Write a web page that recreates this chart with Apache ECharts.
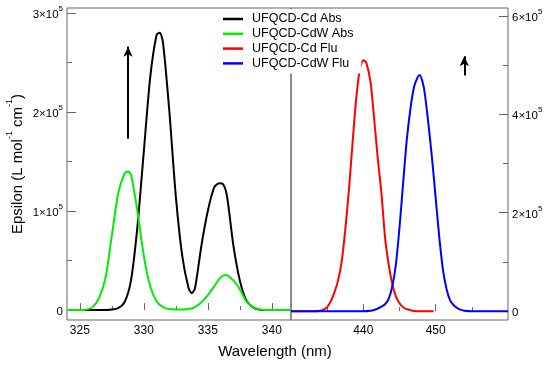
<!DOCTYPE html>
<html><head><meta charset="utf-8">
<script src="https://cdn.jsdelivr.net/npm/echarts@6/dist/echarts.min.js"></script>
<style>html,body{margin:0;padding:0;background:#fff}#c{width:550px;height:368px}</style>
</head><body><div id="c"></div>
<script>
// Absorption (left panel, left axis) — [wavelength nm, epsilon]
var cdAbs = [[324,0],[325,0],[326,0],[327,0],[327.5,500],[328,2000],[328.5,8000],[329,30000],[329.5,84000],[330,160000],[330.5,235000],[331,278000],[331.25,280000],[331.5,270000],[332,200000],[332.5,115000],[333,55000],[333.5,22000],[333.75,17000],[334,22000],[334.5,65000],[335,100000],[335.5,124000],[335.9,128000],[336.2,127000],[336.5,115000],[337,65000],[337.5,30000],[338,10000],[338.5,3000],[339,500],[339.5,0],[341.5,0]];
var cdwAbs = [[324,0],[325,0],[325.5,500],[326,3000],[326.5,12000],[327,32000],[327.5,75000],[328,118000],[328.5,138000],[328.75,140000],[329,137000],[329.5,100000],[330,55000],[330.5,24000],[331,9000],[331.5,3000],[332,1000],[333,500],[333.5,1000],[334,3000],[334.5,8000],[335,15000],[335.5,24000],[336,33000],[336.4,35500],[337,30000],[337.5,21000],[338,9000],[338.5,3000],[339,800],[339.5,0],[341.5,0]];
// Fluorescence (right panel, right axis)
var cdFlu = [[430,0],[433,0],[434,1000],[434.5,3000],[435,8000],[435.5,20000],[436,38000],[436.5,62000],[437,100000],[437.5,165000],[438,245000],[438.5,340000],[439,430000],[439.5,490000],[440,510000],[440.4,505000],[441,465000],[441.5,390000],[442,310000],[442.5,240000],[443,150000],[443.5,95000],[444,55000],[444.5,30000],[445,16000],[445.5,8000],[446,4000],[446.5,2000],[447,500],[448,0],[449.7,0]];
var cdwFlu = [[430,0],[440,0],[441,1000],[441.5,2500],[442,5000],[442.5,9000],[443,14000],[443.5,25000],[444,50000],[444.5,95000],[445,170000],[445.5,260000],[446,347000],[446.5,410000],[447,455000],[447.5,475000],[447.8,480000],[448.2,465000],[448.5,442000],[449,380000],[449.5,310000],[450,230000],[450.5,150000],[451,85000],[451.5,45000],[452,22000],[452.5,12000],[453,6000],[453.5,2500],[454,1000],[455,0],[460,0]];

var seriesNames = ['UFQCD-Cd Abs','UFQCD-CdW Abs','UFQCD-Cd Flu','UFQCD-CdW Flu'];
var seriesColors = ['#000000','#00ee00','#ff0000','#0000ff'];
var xLeftMajor = [325,330,335,340], xLeftMinor = [327.5,332.5,337.5];
var xRightMajor = [440,450], xRightMinor = [435,445,455];
var yLeftMajor = [0,100000,200000,300000], yLeftMinor = [50000,150000,250000];
var yRightMajor = [0,200000,400000,600000], yRightMinor = [100000,300000,500000];
var arrowLeft = [[328.77,173000],[328.77,266000]];
var arrowRight = [[453.96,479000],[453.96,518000]];

var FONT = "'Liberation Sans', Arial, Helvetica, sans-serif";
var AX = '#666';
function sciFmt(v){ if (v === 0) return '{b|0}'; return '{b|' + Math.round(v/1e5) + '×10}{s|5}'; }
var sciRich = { b:{fontSize:11.5, fontFamily:FONT, color:'#000', verticalAlign:'bottom', lineHeight:16}, s:{fontSize:8, fontFamily:FONT, color:'#000', verticalAlign:'top', lineHeight:16} };

function xAx(grid, min, max, vals, len, labels){
  return {type:'value', gridIndex:grid, min:min, max:max, position:'bottom',
    axisLine:{show:false}, splitLine:{show:false},
    axisTick:{show:true, inside:true, length:len, customValues:vals, lineStyle:{color:AX}},
    axisLabel:{show:labels, customValues:vals, margin:5, fontSize:12, fontFamily:FONT, color:'#000'}};
}
function yAx(grid, pos, min, max, vals, len, labels){
  return {type:'value', gridIndex:grid, min:min, max:max, position:pos,
    axisLine:{show:false}, splitLine:{show:false},
    axisTick:{show:true, inside:true, length:len, customValues:vals, lineStyle:{color:AX}},
    axisLabel:{show:labels, customValues:vals, margin:4, formatter:sciFmt, rich:sciRich}};
}
var yl0 = yAx(0,'left',-10000,305000,yLeftMajor,9,true);
yl0.name = '{n|Epsilon (L mol}{s|-1}{n| cm}{s|-1}{n|)}';
yl0.nameLocation = 'middle'; yl0.nameRotate = 90; yl0.nameGap = 42;
yl0.nameTextStyle = {rich:{n:{fontSize:15, fontFamily:FONT, color:'#000', verticalAlign:'bottom', lineHeight:20}, s:{fontSize:9, fontFamily:FONT, color:'#000', verticalAlign:'top', lineHeight:20}}};

var chart = echarts.init(document.getElementById('c'), null, {renderer:'canvas'});
function line(name, data, xi, yi, color, extra){
  var s = {name:name, type:'line', data:data, xAxisIndex:xi, yAxisIndex:yi, symbol:'none', smooth:0.25,
    lineStyle:{color:color, width:2}, itemStyle:{color:color}, emphasis:{disabled:true}};
  if (extra) s.markLine = extra;
  return s;
}
function arrow(pts){
  return {silent:true, symbol:['none','arrow'], symbolSize:[7,10], label:{show:false},
    lineStyle:{color:'#000', width:2, type:'solid'}, emphasis:{disabled:true},
    data:[[{coord:pts[0]},{coord:pts[1]}]]};
}
chart.setOption({
  animation:false,
  backgroundColor:'#fff',
  textStyle:{fontFamily:FONT},
  grid:[
    {left:67, top:8, width:224, height:312, show:true, borderColor:AX, borderWidth:1, backgroundColor:'transparent'},
    {left:291, top:8, width:217, height:312, show:true, borderColor:AX, borderWidth:1, backgroundColor:'transparent'}
  ],
  legend:{orient:'vertical', left:218, top:9, itemWidth:20, itemHeight:2.5, itemGap:0.8,
    data: seriesNames.map(function(n,i){ return {name:n, icon:'rect', itemStyle:{color:seriesColors[i], borderWidth:0}}; }),
    padding:[3,8,3,5], backgroundColor:'#fff',
    textStyle:{fontSize:12.5, fontFamily:FONT, color:'#000', lineHeight:14, padding:[0,0,0,4]}},
  xAxis:[
    xAx(0,324,341.5,xLeftMajor,7,true), xAx(0,324,341.5,xLeftMinor,4,false),
    xAx(1,430,460,xRightMajor,7,true), xAx(1,430,460,xRightMinor,4,false)
  ],
  yAxis:[
    yl0, yAx(0,'left',-10000,305000,yLeftMinor,5,false),
    yAx(1,'right',-18000,616000,yRightMajor,9,true), yAx(1,'right',-18000,616000,yRightMinor,5,false)
  ],
  graphic:[{type:'text', left:'center', top:344, style:{text:'Wavelength (nm)', fontSize:15, fontFamily:FONT, fill:'#000'}}],
  series:[
    line(seriesNames[0], cdAbs, 0, 0, seriesColors[0], arrow(arrowLeft)),
    line(seriesNames[1], cdwAbs, 0, 0, seriesColors[1]),
    line(seriesNames[2], cdFlu, 2, 2, seriesColors[2]),
    line(seriesNames[3], cdwFlu, 2, 2, seriesColors[3], arrow(arrowRight))
  ]
});
</script></body></html>
